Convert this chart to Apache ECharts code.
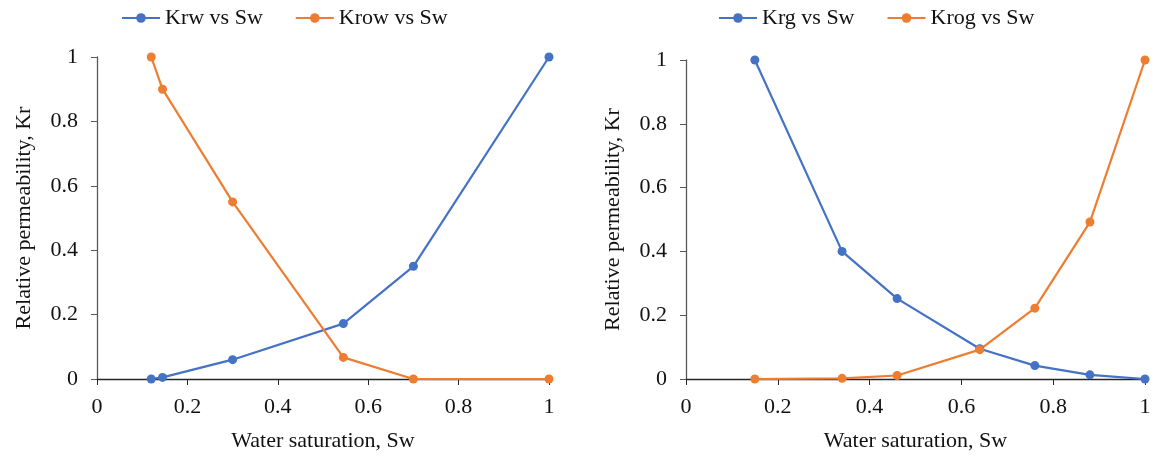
<!DOCTYPE html>
<html>
<head>
<meta charset="utf-8">
<script src="https://cdn.jsdelivr.net/npm/echarts@6/dist/echarts.min.js"></script>
<style>
  html, body { margin: 0; padding: 0; background: #fff; }
  #chart { width: 1154px; height: 457px; }
</style>
</head>
<body>
<div id="chart"></div>
<script>
// Water-oil system
const swOilWater = [0.12, 0.145, 0.3, 0.545, 0.7, 1.0];
const krw        = [0.0, 0.005, 0.06, 0.172, 0.35, 1.0];
const krow       = [1.0, 0.9, 0.55, 0.067, 0.0, 0.0];

// Gas-oil system
const swGasOil = [0.15, 0.34, 0.46, 0.64, 0.76, 0.88, 1.0];
const krg      = [1.0, 0.4, 0.252, 0.095, 0.042, 0.013, 0.0];
const krog     = [0.0, 0.002, 0.011, 0.092, 0.222, 0.492, 1.0];

const axisTicks = [0, 0.2, 0.4, 0.6, 0.8, 1];

const BLUE = '#4472C4';
const ORANGE = '#ED7D31';
const FONT = '"Liberation Serif", "DejaVu Serif", serif';
const TEXT = '#111111';

function pairs(xs, ys) {
  return xs.map((x, i) => [x, ys[i]]);
}

function xAxisFor(gridIndex) {
  return {
    type: 'value', gridIndex,
    min: axisTicks[0], max: axisTicks[axisTicks.length - 1],
    interval: axisTicks[1] - axisTicks[0],
    name: 'Water saturation, Sw',
    nameLocation: 'middle', nameGap: 51,
    nameTextStyle: { fontFamily: FONT, fontSize: 22, color: TEXT },
    axisLine: { show: true, lineStyle: { color: '#262626', width: 1.3 } },
    axisTick: { show: true, inside: false, length: 6, lineStyle: { color: '#262626' } },
    axisLabel: { fontFamily: FONT, fontSize: 22, color: TEXT, margin: 17 },
    splitLine: { show: false }
  };
}

function yAxisFor(gridIndex) {
  return {
    type: 'value', gridIndex,
    min: axisTicks[0], max: axisTicks[axisTicks.length - 1],
    interval: axisTicks[1] - axisTicks[0],
    name: 'Relative permeability, Kr',
    nameLocation: 'middle', nameGap: 62,
    nameTextStyle: { fontFamily: FONT, fontSize: 22, color: TEXT },
    axisLine: { show: true, lineStyle: { color: '#595959', width: 1.3 } },
    axisTick: { show: true, inside: false, length: 6, lineStyle: { color: '#595959' } },
    axisLabel: { fontFamily: FONT, fontSize: 22, color: TEXT, margin: 19 },
    splitLine: { show: false }
  };
}

function lineSeries(name, xs, ys, color, idx) {
  return {
    name, type: 'line',
    xAxisIndex: idx, yAxisIndex: idx,
    data: pairs(xs, ys),
    symbol: 'circle', symbolSize: 9,
    lineStyle: { color, width: 2.2 },
    itemStyle: { color },
    animation: false
  };
}

const legendText = { fontFamily: FONT, fontSize: 22, color: TEXT };

const chart = echarts.init(document.getElementById('chart'), null, { renderer: 'canvas' });
chart.setOption({
  backgroundColor: '#fff',
  animation: false,
  legend: [
    {
      data: ['Krw vs Sw', 'Krow vs Sw'],
      left: 116, top: 2,
      itemWidth: 38, itemHeight: 12, itemGap: 32,
      textStyle: legendText
    },
    {
      data: ['Krg vs Sw', 'Krog vs Sw'],
      left: 713, top: 2,
      itemWidth: 38, itemHeight: 12, itemGap: 32,
      textStyle: legendText
    }
  ],
  grid: [
    { left: 97, right: 605, top: 57, bottom: 77 },
    { left: 686, right: 9, top: 60, bottom: 74 }
  ],
  xAxis: [xAxisFor(0), xAxisFor(1)],
  yAxis: [yAxisFor(0), yAxisFor(1)],
  series: [
    lineSeries('Krw vs Sw', swOilWater, krw, BLUE, 0),
    lineSeries('Krow vs Sw', swOilWater, krow, ORANGE, 0),
    lineSeries('Krg vs Sw', swGasOil, krg, BLUE, 1),
    lineSeries('Krog vs Sw', swGasOil, krog, ORANGE, 1)
  ]
});
</script>
</body>
</html>
